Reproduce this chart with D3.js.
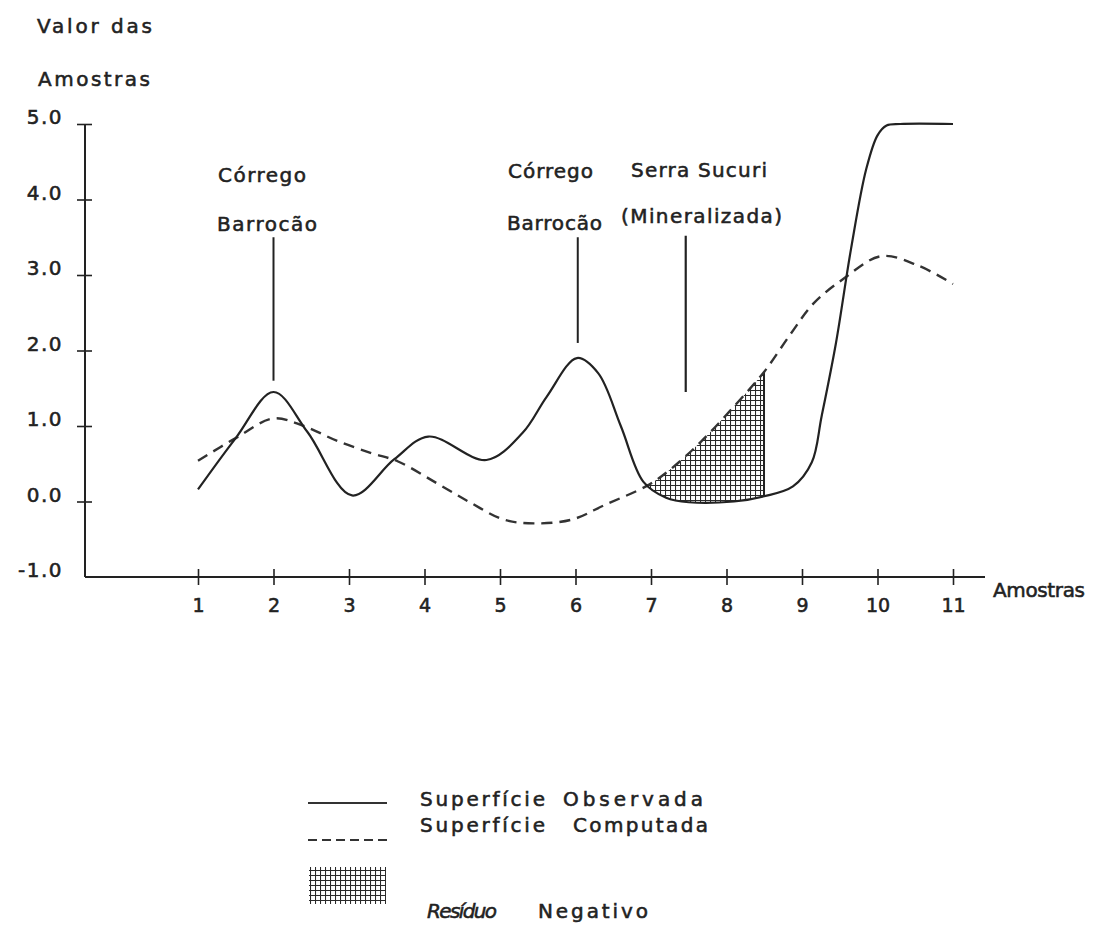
<!DOCTYPE html>
<html>
<head>
<meta charset="utf-8">
<script src="https://cdn.jsdelivr.net/npm/d3@7"></script>
<style>
  html, body { margin: 0; padding: 0; background: #fff; }
  svg { display: block; }
  text { font-family: "DejaVu Sans", sans-serif; fill: #222; stroke: #222; stroke-width: 0.55px; }
</style>
</head>
<body>
<svg id="chart" width="1095" height="925"></svg>
<script>
// ---------------- DATA ----------------
const samples = [1, 2, 3, 4, 5, 6, 7, 8, 9, 10, 11];
const sampleLabels = ["1", "2", "3", "4", "5", "6", "7", "8", "9", "10", "11"];
const yTicks = [-1, 0, 1, 2, 3, 4, 5];
const yTickLabels = ["-1.0", "0.0", "1.0", "2.0", "3.0", "4.0", "5.0"];

// Superfície Observada (solid)
const observedX = [1.0, 1.5, 2.0, 2.45, 3.04, 3.6, 4.05, 4.82, 5.3, 5.62, 6.02, 6.3, 6.6, 6.9, 7.2, 7.5, 8.1, 8.5, 8.88, 9.13, 9.26, 9.45, 9.65, 9.85, 10.0, 10.12, 10.3, 11.0];
const observedY = [0.16, 0.84, 1.45, 0.92, 0.08, 0.56, 0.86, 0.55, 0.91, 1.39, 1.90, 1.70, 1.00, 0.26, 0.05, -0.01, 0.00, 0.07, 0.20, 0.52, 1.13, 2.10, 3.35, 4.40, 4.85, 4.98, 5.00, 5.00];

// Superfície Computada (dashed)
const computedX = [1.0, 1.5, 2.0, 2.4, 2.85, 3.3, 3.65, 4.15, 4.6, 5.05, 5.45, 5.95, 6.4, 6.95, 7.25, 7.65, 8.1, 8.5, 8.85, 9.15, 9.55, 10.05, 10.55, 11.0];
const computedY = [0.54, 0.84, 1.10, 1.00, 0.80, 0.64, 0.53, 0.25, -0.01, -0.24, -0.29, -0.24, -0.04, 0.21, 0.42, 0.78, 1.26, 1.72, 2.22, 2.62, 2.95, 3.25, 3.12, 2.88];

// Resíduo negativo range (sample positions)
const residualRange = [6.6, 8.51];

// Annotations
const annotationLines = [["Córrego", "Barrocão"], ["Córrego", "Barrocão"], ["Serra Sucuri", "(Mineralizada)"]];
const annotationAt = [2.0, 6.03, 7.46];
const annotationFrom = [3.5, 3.5, 3.52];
const annotationTo = [1.6, 2.1, 1.45];

const legendLabels = ["Superfície Observada", "Superfície Computada", "Resíduo Negativo"];
const yTitle = ["Valor das", "Amostras"];
const xTitle = "Amostras";

// ---------------- LAYOUT ----------------
const svg = d3.select("#chart");
const x = d3.scaleLinear().domain([1, 11]).range([198, 953]);
const y = d3.scaleLinear().domain([-1, 5]).range([577, 124]);
const ink = "#222";
const axisX0 = 85, axisX1 = 985;

function label(t, px, py, w, opts = {}) {
  const el = svg.append("text")
    .attr("x", px).attr("y", py)
    .attr("font-size", opts.size || 20)
    .attr("text-anchor", opts.anchor || "start")
    .text(t);
  if (opts.italic) el.attr("font-style", "italic");
  if (w) el.attr("textLength", w).attr("lengthAdjust", "spacing");
  return el;
}

// hatch pattern
const defs = svg.append("defs");
const pat = defs.append("pattern").attr("id", "hatch")
  .attr("patternUnits", "userSpaceOnUse").attr("width", 5).attr("height", 5);
pat.append("path").attr("d", "M0,0.5 H5 M0.5,0 V5")
  .attr("stroke", "#2a2a2a").attr("stroke-width", 1.1).attr("fill", "none");

// axis titles
label(yTitle[0], 37, 33, 115);
label(yTitle[1], 38, 86, 112);
label(xTitle, 993, 597, 92);

// Y axis
const yAxis = d3.axisLeft(y).tickValues(yTicks).tickSize(0)
  .tickFormat((d, i) => yTickLabels[i]);
const gy = svg.append("g").attr("transform", `translate(${axisX0},0)`).call(yAxis);
gy.select(".domain").remove();
gy.selectAll(".tick text").attr("x", -22).attr("dy", "-0.02em")
  .attr("font-size", 20).attr("font-family", "DejaVu Sans").attr("fill", ink)
  .style("letter-spacing", "1.5px");
gy.selectAll(".tick").filter(d => d > -1).append("line")
  .attr("x1", -8).attr("x2", 7).attr("stroke", ink).attr("stroke-width", 1.6);
svg.append("line").attr("x1", axisX0).attr("x2", axisX0)
  .attr("y1", y(5)).attr("y2", y(-1)).attr("stroke", ink).attr("stroke-width", 2);

// X axis
const xAxis = d3.axisBottom(x).tickValues(samples).tickSize(0)
  .tickFormat((d, i) => sampleLabels[i]);
const gx = svg.append("g").attr("transform", `translate(0,${y(-1)})`).call(xAxis);
gx.select(".domain").remove();
gx.selectAll(".tick text").attr("y", 35).attr("dy", 0)
  .attr("font-size", 19).attr("font-family", "DejaVu Sans").attr("fill", ink);
gx.selectAll(".tick").append("line")
  .attr("y1", -8).attr("y2", 8).attr("stroke", ink).attr("stroke-width", 1.6);
svg.append("line").attr("x1", axisX0).attr("x2", axisX1)
  .attr("y1", y(-1)).attr("y2", y(-1)).attr("stroke", ink).attr("stroke-width", 2);

// curves
const obs = observedX.map((d, i) => [d, observedY[i]]);
const comp = computedX.map((d, i) => [d, computedY[i]]);
const curve = d3.curveCatmullRom.alpha(0.5);

// residual hatch: below computed and above observed
defs.append("clipPath").attr("id", "belowComp").append("path")
  .attr("d", d3.area().curve(curve).x(d => x(d[0])).y0(y(-1)).y1(d => y(d[1]))(comp));
defs.append("clipPath").attr("id", "aboveObs").append("path")
  .attr("d", d3.area().curve(curve).x(d => x(d[0])).y0(y(5)).y1(d => y(d[1]))(obs));
const hg = svg.append("g").attr("clip-path", "url(#belowComp)")
  .append("g").attr("clip-path", "url(#aboveObs)");
hg.append("rect").attr("x", x(residualRange[0])).attr("y", y(5))
  .attr("width", x(residualRange[1]) - x(residualRange[0])).attr("height", y(-1) - y(5))
  .attr("fill", "url(#hatch)");
hg.append("line").attr("x1", x(residualRange[1]) - 1).attr("x2", x(residualRange[1]) - 1)
  .attr("y1", y(5)).attr("y2", y(-1)).attr("stroke", "#222").attr("stroke-width", 2);

const line = d3.line().curve(curve).x(d => x(d[0])).y(d => y(d[1]));
svg.append("path").attr("d", line(comp)).attr("fill", "none")
  .attr("stroke", "#333").attr("stroke-width", 2.4).attr("stroke-dasharray", "11,7");
svg.append("path").attr("d", line(obs)).attr("fill", "none")
  .attr("stroke", "#222").attr("stroke-width", 2.2);

// annotations
const annText = [
  [[218, 182, 88], [217, 231, 100]],
  [[508, 178, 85], [507, 230, 95]],
  [[631, 177, 136], [621, 223, 161]]
];
annotationLines.forEach((lines, i) => {
  lines.forEach((t, j) => {
    const [px, py, w] = annText[i][j];
    label(t, px, py, w);
  });
  svg.append("line").attr("x1", x(annotationAt[i])).attr("x2", x(annotationAt[i]))
    .attr("y1", y(annotationFrom[i])).attr("y2", y(annotationTo[i]))
    .attr("stroke", ink).attr("stroke-width", i === 2 ? 2.2 : 2);
});

// legend
svg.append("line").attr("x1", 308).attr("x2", 387).attr("y1", 803).attr("y2", 803)
  .attr("stroke", "#333").attr("stroke-width", 2);
svg.append("line").attr("x1", 308).attr("x2", 387).attr("y1", 840).attr("y2", 840)
  .attr("stroke", "#333").attr("stroke-width", 2).attr("stroke-dasharray", "9,5");
svg.append("rect").attr("x", 309).attr("y", 867).attr("width", 77).attr("height", 37)
  .attr("fill", "url(#hatch)");
const legPos = [
  [[420, 806, 125], [563, 806, 140]],
  [[420, 832, 125], [573, 832, 135]],
  [[427, 918, 70], [538, 918, 110]]
];
legendLabels.forEach((t, i) => {
  const words = t.split(" ");
  words.forEach((w, j) => {
    const [px, py, wd] = legPos[i][j];
    label(w, px, py, wd, { italic: i === 2 && j === 0 });
  });
});
</script>
</body>
</html>
